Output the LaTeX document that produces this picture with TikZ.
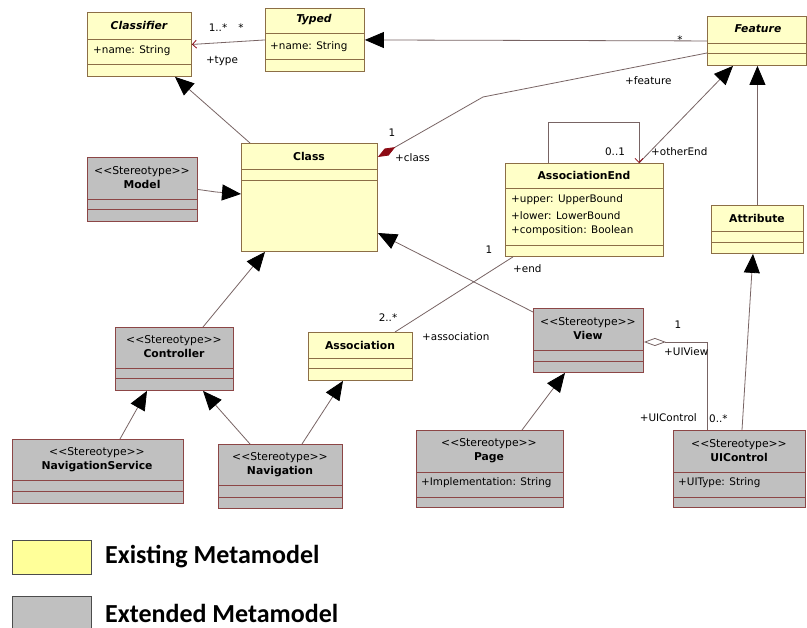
\documentclass[tikz,border=0pt]{standalone}
\usepackage{fontspec}
\setmainfont{DejaVu Sans}
\newfontfamily\legfont{Carlito}
\usetikzlibrary{arrows.meta}
\definecolor{yfill}{RGB}{255,255,200}
\definecolor{ybord}{RGB}{140,110,70}
\definecolor{gfill}{RGB}{192,192,192}
\definecolor{gbord}{RGB}{140,70,70}
\definecolor{wire}{RGB}{120,100,100}
\definecolor{dred}{RGB}{140,10,20}
\definecolor{legy}{RGB}{255,255,153}
\newcommand\stype{<\kern0pt<Stereotype>\kern0pt>}
\tikzset{
  ybox/.style={draw=ybord, fill=yfill, line width=0.9pt, inner sep=0pt},
  yboxline/.style={draw=ybord, line width=0.9pt},
  gbox/.style={draw=gbord, fill=gfill, line width=0.9pt, inner sep=0pt},
  gboxline/.style={draw=gbord, line width=0.9pt},
  hdr/.style={font=\fontsize{10.8}{14}\selectfont, align=center, inner sep=0pt},
  attr/.style={font=\fontsize{10.4}{12}\selectfont, anchor=west, inner sep=0pt},
  lbl/.style={font=\fontsize{10.4}{12}\selectfont, inner sep=0pt},
  wireline/.style={draw=wire, line width=0.8pt},
  gen/.style={wireline, -{Triangle[length=19pt,width=16pt,fill=black,color=black]}},
  openarr/.style={wireline, -{Straight Barb[length=4pt,width=8pt,color=dred]}},
  legbox/.style={draw=black!70, line width=0.8pt, minimum width=79pt, anchor=north west, inner sep=0pt},
  legtext/.style={font=\legfont\bfseries\fontsize{26}{29}\selectfont, anchor=west, inner sep=0pt},
}
\newcommand\umlbox[8]{%
  \node[#8, minimum width={(#4-#2)*1pt}, minimum height={(#5-#3)*1pt}, anchor=north west] (#1) at (#2,#3) {};
  \draw[#8line] (#2,#6) -- (#4,#6) (#2,#7) -- (#4,#7);
}
\begin{document}
\begin{tikzpicture}[x=1pt,y=-1pt]
\useasboundingbox[fill=white] (0,0) rectangle (807,628);

% boxes
\umlbox{classifier}{87}{12}{191}{76}{39}{64}{ybox}
\umlbox{typed}{265}{8}{364}{71}{33}{59}{ybox}
\umlbox{feature}{707}{16}{806}{65}{43}{53}{ybox}
\umlbox{class}{241}{143}{377}{251}{169}{180}{ybox}
\umlbox{model}{87}{157}{197}{221}{199}{209}{gbox}
\umlbox{assocend}{505}{163}{663}{256}{188}{245}{ybox}
\umlbox{attribute}{711}{205}{803}{253}{231}{242}{ybox}
\umlbox{ctrl}{115}{327}{233}{390}{368}{378}{gbox}
\umlbox{assoc}{308}{332}{412}{380}{358}{368}{ybox}
\umlbox{view}{533}{308}{643}{372}{350}{361}{gbox}
\umlbox{navsvc}{12}{439}{183}{503}{480}{491}{gbox}
\umlbox{nav}{218}{444}{342}{508}{485}{497}{gbox}
\umlbox{page}{416}{430}{563}{507}{472}{497}{gbox}
\umlbox{uic}{673}{430}{805}{507}{472}{497}{gbox}

% headers
\node[hdr] (t-classifier) at (139,25) {\bfseries\itshape Classifier};
\node[hdr] (t-typed) at (314,20) {\bfseries\itshape Typed};
\node[hdr] (t-feature) at (758,29) {\bfseries\itshape Feature};
\node[hdr] (t-class) at (309,156) {\bfseries Class};
\node[hdr] (t-model) at (142,178) {\stype\\\bfseries Model};
\node[hdr] (t-assocend) at (584,175) {\bfseries AssociationEnd};
\node[hdr] (t-attribute) at (757,218) {\bfseries Attribute};
\node[hdr] (t-ctrl) at (174,347) {\stype\\\bfseries Controller};
\node[hdr] (t-assoc) at (360,345) {\bfseries Association};
\node[hdr] (t-view) at (588,329) {\stype\\\bfseries View};
\node[hdr] (t-navsvc) at (97,460) {\stype\\\bfseries NavigationService};
\node[hdr] (t-nav) at (280,465) {\stype\\\bfseries Navigation};
\node[hdr] (t-page) at (489,451) {\stype\\\bfseries Page};
\node[hdr] (t-uic) at (739,451) {\stype\\\bfseries UIControl};

% attributes
\node[attr] (a-classifier) at (93,51) {+name: String};
\node[attr] (a-typed) at (270,47) {+name: String};
\node[attr] (a-ae1) at (511,200) {+upper: UpperBound};
\node[attr] (a-ae2) at (511,216) {+lower: LowerBound};
\node[attr] (a-ae3) at (511,231) {+composition: Boolean};
\node[attr] (a-page) at (421,483) {+Implementation: String};
\node[attr] (a-uic) at (678,483) {+UIType: String};

% connectors
\draw[openarr] (typed.west) -- (classifier.east);
\node[lbl] (l-type1) at (218,28) {1..*};
\node[lbl] (l-type2) at (241,28) {*};
\node[lbl] (l-type3) at (222,61) {+type};

\draw[gen] (feature.west) -- (typed.east);
\node[lbl] (l-feat-star) at (680,40) {*};

\draw[gen] (250,0 |- class.north) -- (175,0 |- classifier.south);

\draw[wireline, {Diamond[length=20pt,width=8pt,fill=dred,color=dred]}-] (class.east |- 0,157) -- (483,97) -- (feature.west |- 0,53);
\node[lbl] (l-c1) at (392,133) {1};
\node[lbl, anchor=west] (l-c2) at (395,158) {+class};
\node[lbl, anchor=west] (l-c3) at (625,81) {+feature};

\draw[gen] (639,0 |- assocend.north) -- (733,0 |- feature.south);
\draw[openarr] (548,0 |- assocend.north) -- (548,122) -- (639,122) -- (639,0 |- assocend.north);
\node[lbl] (l-oe1) at (615,152) {0..1};
\node[lbl, anchor=west] (l-oe2) at (651,152) {+otherEnd};

\draw[gen] (attribute.north) -- (attribute.north |- feature.south);
\draw[gen] (742,0 |- uic.north) -- (753,0 |- attribute.south);

\draw[gen] (model.east) -- (216,192) -- (class.west |- 0,194);
\draw[gen] (203,0 |- ctrl.north) -- (265,0 |- class.south);
\draw[gen] (view.west |- 0,312) -- (class.east |- 0,233);

\draw[wireline] (395,0 |- assoc.north) -- (513,0 |- assocend.south);
\node[lbl] (l-a1) at (489,250) {1};
\node[lbl, anchor=west] (l-a2) at (513,269) {+end};
\node[lbl] (l-a3) at (388,318) {2..*};
\node[lbl, anchor=west] (l-a4) at (422,337) {+association};

\draw[gen] (120,0 |- navsvc.north) -- (147,0 |- ctrl.south);
\draw[gen] (250,0 |- nav.north) -- (203,0 |- ctrl.south);
\draw[gen] (302,0 |- nav.north) -- (343,0 |- assoc.south);
\draw[gen] (522,0 |- page.north) -- (565,0 |- view.south);

\draw[wireline, {Diamond[open,length=22pt,width=8pt,fill=white]}-] (view.east |- 0,342) -- (707,342) -- (707,0 |- uic.north);
\node[lbl] (l-v1) at (678,325) {1};
\node[lbl, anchor=west] (l-v2) at (664,352) {+UIView};
\node[lbl, anchor=east] (l-v3) at (697,418) {+UIControl};
\node[lbl, anchor=west] (l-v4) at (709,419) {0..*};

% legend
\node[legbox, fill=legy, minimum height=34pt] (leg-y) at (12,540) {};
\node[legtext] (leg-yt) at (105,557) {Existing Metamodel};
\node[legbox, fill=gfill, minimum height=50pt] (leg-g) at (12,596) {};
\node[legtext] (leg-gt) at (105,613) {Extended Metamodel};
\end{tikzpicture}
\end{document}
